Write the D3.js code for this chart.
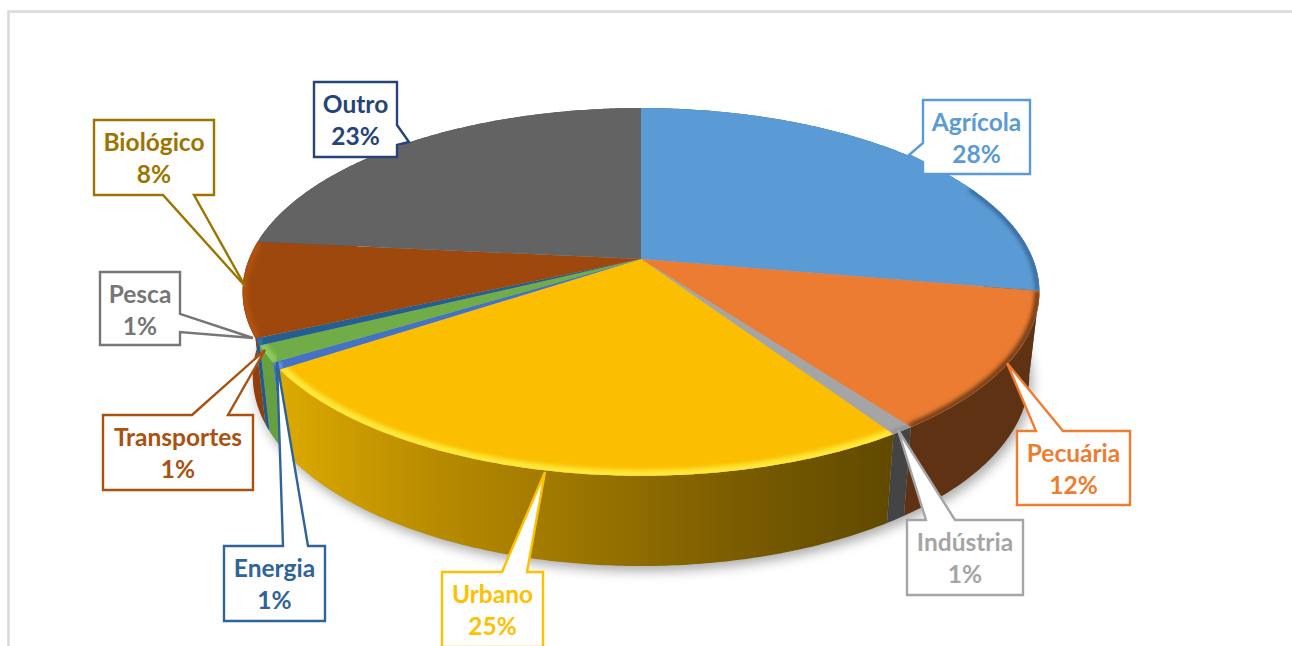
<!DOCTYPE html>
<html>
<head>
<meta charset="utf-8">
<script src="https://cdnjs.cloudflare.com/ajax/libs/d3/7.8.5/d3.min.js"></script>
<style>
    html, body { margin: 0; padding: 0; background: #fff; overflow: hidden; }
    text { font-family: Lato, "Open Sans", sans-serif; font-weight: 700; }
</style>
</head>
<body>
<svg id="chart"></svg>
<script>
// values (labels show them rounded)
var categories = ["Agrícola", "Pecuária", "Indústria", "Urbano", "Energia", "Transportes", "Pesca", "Biológico", "Outro"];
var shares = [27.8, 12.2, 0.8, 24.8, 0.6, 1.45, 0.6, 8.35, 23.45];

var topColors = ["#5B9BD5", "#EB7C31", "#A5A5A5", "#FBBE00", "#4472C4", "#70AD47", "#255E91", "#9E480E", "#636363"];
var rimColors = ["#2f5f8c", "#5f3214", "#8a8a8a", "#ffe93a", "#6f9bea", "#8ccf5e", "#2f78b8", "#b4530f", "#636363"];
var rimWidths = [4, 5, 4, 9, 6, 8, 6, 6, 4];
var wallColors = [
    ["#2b5a85", "#2b5a85"],
    ["#5f3214", "#5f3214"],
    ["#444444", "#444444"],
    ["#dcaa00", "#b88b00", "#9a7400", "#7a5c00", "#604900"],
    ["#3f6cb8", "#3f6cb8"],
    ["#66a040", "#66a040"],
    ["#235a8c", "#235a8c"],
    ["#a5470d", "#8f3f0c"],
    ["#4a4a4a", "#4a4a4a"]
];
var labelColors = ["#5B9BD5", "#ED7D31", "#A5A5A5", "#FFC000", "#2E6499", "#A9510F", "#767676", "#9C7500", "#264478"];

// callout boxes [x0, y0, x1, y1] and pointers [base a, tip, base b]
var labelBoxes = [
    [923, 100, 1030, 174], [1017, 431, 1130, 505], [907, 520, 1023, 595],
    [442, 572, 543, 647], [224, 546, 325, 621], [103, 415, 253, 490],
    [100, 272, 180, 345], [94, 120, 214, 195], [314, 82, 397, 157]
];
var labelPointers = [
    [[923, 143], [909, 155], [923, 162]], [[1036, 431], [1007, 363], [1063, 431]], [[926, 520], [898, 430], [955, 520]],
    [[502, 572], [545, 472], [527, 572]], [[283, 546], [277, 362], [308, 546]], [[192, 415], [265, 350], [228, 415]],
    [[180, 314], [253, 338], [180, 332]], [[163, 195], [245, 286], [194, 195]], [[397, 125], [409, 142], [397, 145]]
];

var svgW = 1292, svgH = 646;
var svg = d3.select("#chart").attr("width", svgW).attr("height", svgH);
var defs = svg.append("defs");

// planes of the tilted pie: top face and bottom face (perspective along y)
var centerX = 641;
var topPlane = { k: 392, a: 131.6, b: 259, c: -0.179 };
var bottomPlane = { k: 382, a: 122.7, b: 342, c: -0.179 };

var project = function (plane, angle, r) {
    var x = r * Math.sin(angle), y = -r * Math.cos(angle);
    var w = 1 + plane.c * y;
    return [centerX + plane.k * x / w, (plane.a * y + plane.b) / w];
};

var arcPoints = function (plane, a0, a1, r) {
    var n = Math.max(2, Math.ceil((a1 - a0) / 0.01));
    return d3.range(n + 1).map(function (i) {
        return project(plane, a0 + (a1 - a0) * i / n, r);
    });
};

var line = d3.line();
var pie = d3.pie().sort(null).value(function (d) { return d; });
var slices = pie(shares);

// frame of the original picture
svg.append("path")
    .attr("d", "M8.5,646V11.5H1292")
    .attr("fill", "none")
    .attr("stroke", "#d9d9d9")
    .attr("stroke-width", 2.5);

// soft shadow under the pie
defs.append("filter").attr("id", "shadowBlur")
    .attr("x", "-10%").attr("y", "-10%").attr("width", "120%").attr("height", "120%")
    .append("feGaussianBlur").attr("stdDeviation", 6);
defs.append("filter").attr("id", "rimBlur")
    .attr("x", "-10%").attr("y", "-10%").attr("width", "120%").attr("height", "120%")
    .append("feGaussianBlur").attr("stdDeviation", 2);

svg.append("path")
    .attr("d", line(arcPoints(bottomPlane, 0, 2 * Math.PI, 1)) + "Z")
    .attr("transform", "translate(3,5)")
    .attr("fill", "#000")
    .attr("fill-opacity", 0.33)
    .attr("filter", "url(#shadowBlur)");

// side walls
var wallPath = function (d) {
    var front = arcPoints(topPlane, d.startAngle, d.endAngle, 1);
    var back = arcPoints(bottomPlane, d.startAngle, d.endAngle, 1).reverse();
    return line(front.concat(back)) + "Z";
};

slices.forEach(function (d, i) {
    var pts = arcPoints(topPlane, d.startAngle, d.endAngle, 1);
    var grad = defs.append("linearGradient")
        .attr("id", "wall" + i)
        .attr("gradientUnits", "userSpaceOnUse")
        .attr("x1", d3.min(pts, function (p) { return p[0]; }))
        .attr("x2", d3.max(pts, function (p) { return p[0]; }))
        .attr("y1", 0)
        .attr("y2", 0);
    wallColors[i].forEach(function (c, j) {
        grad.append("stop").attr("offset", j / (wallColors[i].length - 1)).attr("stop-color", c);
    });
});

svg.append("g").selectAll("path")
    .data(slices)
    .join("path")
    .attr("d", wallPath)
    .attr("fill", function (d, i) { return "url(#wall" + i + ")"; });

// top faces
var facePath = function (d) {
    return line([project(topPlane, 0, 0)].concat(arcPoints(topPlane, d.startAngle, d.endAngle, 1))) + "Z";
};

svg.append("g").selectAll("path")
    .data(slices)
    .join("path")
    .attr("d", facePath)
    .attr("fill", function (d, i) { return topColors[i]; });

// bevel along the visible rim, clipped to each slice
var rimFrom = 65 * Math.PI / 180, rimTo = 285 * Math.PI / 180;
var rimG = svg.append("g");
slices.forEach(function (d, i) {
    var a0 = Math.max(d.startAngle, rimFrom), a1 = Math.min(d.endAngle, rimTo);
    if (a1 <= a0) {
        return;
    }
    defs.append("clipPath").attr("id", "face" + i).append("path").attr("d", facePath(d));
    rimG.append("g")
        .attr("clip-path", "url(#face" + i + ")")
        .append("path")
        .attr("d", line(arcPoints(topPlane, a0, a1, 0.995)))
        .attr("fill", "none")
        .attr("stroke", rimColors[i])
        .attr("stroke-width", rimWidths[i])
        .attr("filter", "url(#rimBlur)");
});

// callouts
var calloutPath = function (box, ptr) {
    var x0 = box[0], y0 = box[1], x1 = box[2], y1 = box[3];
    var p = "M" + [x0, y0];
    var wedge = function (side) {
        var onSide = { top: ptr[0][1] == y0, right: ptr[0][0] == x1, bottom: ptr[0][1] == y1, left: ptr[0][0] == x0 };
        if (!onSide[side]) {
            return "";
        }
        // pointer bases are listed top/left first, walk them in path order
        var pts = (side == "bottom" || side == "left") ? ptr.slice().reverse() : ptr;
        return "L" + pts.join("L");
    };
    p += wedge("top") + "L" + [x1, y0];
    p += wedge("right") + "L" + [x1, y1];
    p += wedge("bottom") + "L" + [x0, y1];
    p += wedge("left") + "Z";
    return p;
};

var labels = svg.append("g").selectAll("g")
    .data(categories)
    .join("g");

labels.append("path")
    .attr("d", function (d, i) { return calloutPath(labelBoxes[i], labelPointers[i]); })
    .attr("fill", "#fff")
    .attr("stroke", function (d, i) { return labelColors[i]; })
    .attr("stroke-width", 2.4);

labels.append("text")
    .attr("x", function (d, i) { return (labelBoxes[i][0] + labelBoxes[i][2]) / 2; })
    .attr("y", function (d, i) { return labelBoxes[i][1] + 31; })
    .attr("text-anchor", "middle")
    .attr("font-size", 24.5)
    .attr("fill", function (d, i) { return labelColors[i]; })
    .text(function (d) { return d; });

labels.append("text")
    .attr("x", function (d, i) { return (labelBoxes[i][0] + labelBoxes[i][2]) / 2; })
    .attr("y", function (d, i) { return labelBoxes[i][1] + 63; })
    .attr("text-anchor", "middle")
    .attr("font-size", 24.5)
    .attr("fill", function (d, i) { return labelColors[i]; })
    .text(function (d, i) { return d3.format(".0f")(shares[i]) + "%"; });
</script>
</body>
</html>
